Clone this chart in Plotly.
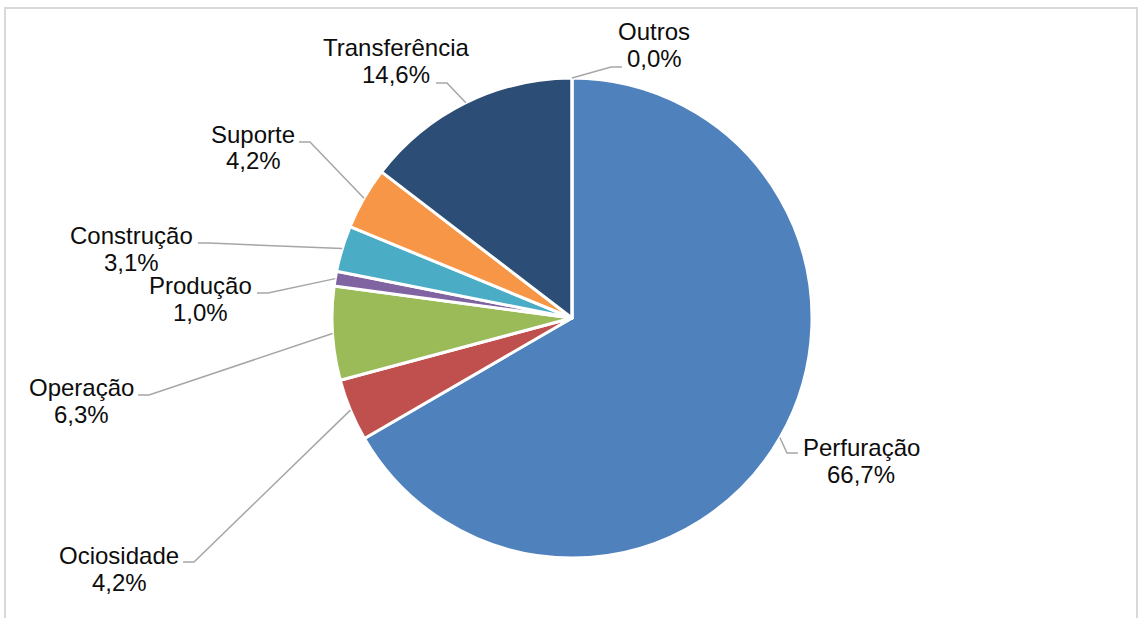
import plotly.graph_objects as go

# Distribution of rig time by activity (%)
categories = ["Perfuração", "Ociosidade", "Operação", "Produção",
              "Construção", "Suporte", "Transferência", "Outros"]
shares = [66.7, 4.2, 6.3, 1.0, 3.1, 4.2, 14.6, 0.0]
colors = ["#4f81bd", "#c0504d", "#9bbb59", "#8064a2",
          "#4bacc6", "#f79646", "#2c4d75", "#7f7f7f"]

W, H = 1139, 618
CX, CY, R = 572, 318, 240  # pie centre and radius in pixels

# Label placement (pixels): text centre x, middle of first line y,
# end of leader line (x, y) and side from which the leader arrives
label_layout = {
    "Perfuração":    dict(cx=861, cy=447, ex=798, ey=453, side=-1),
    "Ociosidade":    dict(cx=119, cy=555, ex=183, ey=562, side=1),
    "Operação":      dict(cx=81,  cy=387, ex=138, ey=395, side=1),
    "Produção":      dict(cx=200, cy=285, ex=257, ey=293, side=1),
    "Construção":    dict(cx=131, cy=235, ex=198, ey=243, side=1),
    "Suporte":       dict(cx=253, cy=134, ex=299, ey=142, side=1),
    "Transferência": dict(cx=396, cy=48,  ex=436, ey=83,  side=1),
    "Outros":        dict(cx=654, cy=31,  ex=622, ey=67,  side=-1),
}
LINE_GAP = 27
ELBOW = 11


def px(x):
    return x / W


def py(y):
    return 1 - y / H


fig = go.Figure()
fig.add_trace(go.Pie(
    labels=categories,
    values=shares,
    sort=False,
    direction="clockwise",
    rotation=0,
    marker=dict(colors=colors, line=dict(color="white", width=3)),
    textinfo="none",
    hoverinfo="label+percent",
    showlegend=False,
    domain=dict(x=[px(CX - R), px(CX + R)], y=[py(CY + R), py(CY - R)]),
))

import math

total = sum(shares)
cum = 0.0
shapes = []
annotations = []
for name, val in zip(categories, shares):
    mid = (cum + val / 2) / total * 2 * math.pi
    cum += val
    sx = CX + R * math.sin(mid)
    sy = CY - R * math.cos(mid)
    lay = label_layout[name]
    ex, ey = lay["ex"], lay["ey"]
    bx = ex + lay["side"] * ELBOW
    path = f"M {px(sx)},{py(sy)} L {px(bx)},{py(ey)} L {px(ex)},{py(ey)}"
    shapes.append(dict(type="path", xref="paper", yref="paper", path=path,
                       line=dict(color="#a6a6a6", width=1.5)))
    pct = f"{val:.1f}".replace(".", ",") + "%"
    for i, txt in enumerate([name, pct]):
        annotations.append(dict(
            x=px(lay["cx"]), y=py(lay["cy"] + i * LINE_GAP),
            xref="paper", yref="paper", text=txt, showarrow=False,
            xanchor="center", yanchor="middle",
            font=dict(family="Liberation Sans, Arial, sans-serif",
                      size=24, color="#0d0d0d"),
        ))

# Chart area border
shapes.append(dict(type="rect", xref="paper", yref="paper",
                   x0=px(5), x1=px(1137), y0=py(640), y1=py(8),
                   line=dict(color="#d9d9d9", width=2), layer="below"))

fig.update_layout(
    width=W, height=H,
    margin=dict(l=0, r=0, t=0, b=0),
    paper_bgcolor="white",
    plot_bgcolor="white",
    shapes=shapes,
    annotations=annotations,
)

fig.write_html("out.html")
